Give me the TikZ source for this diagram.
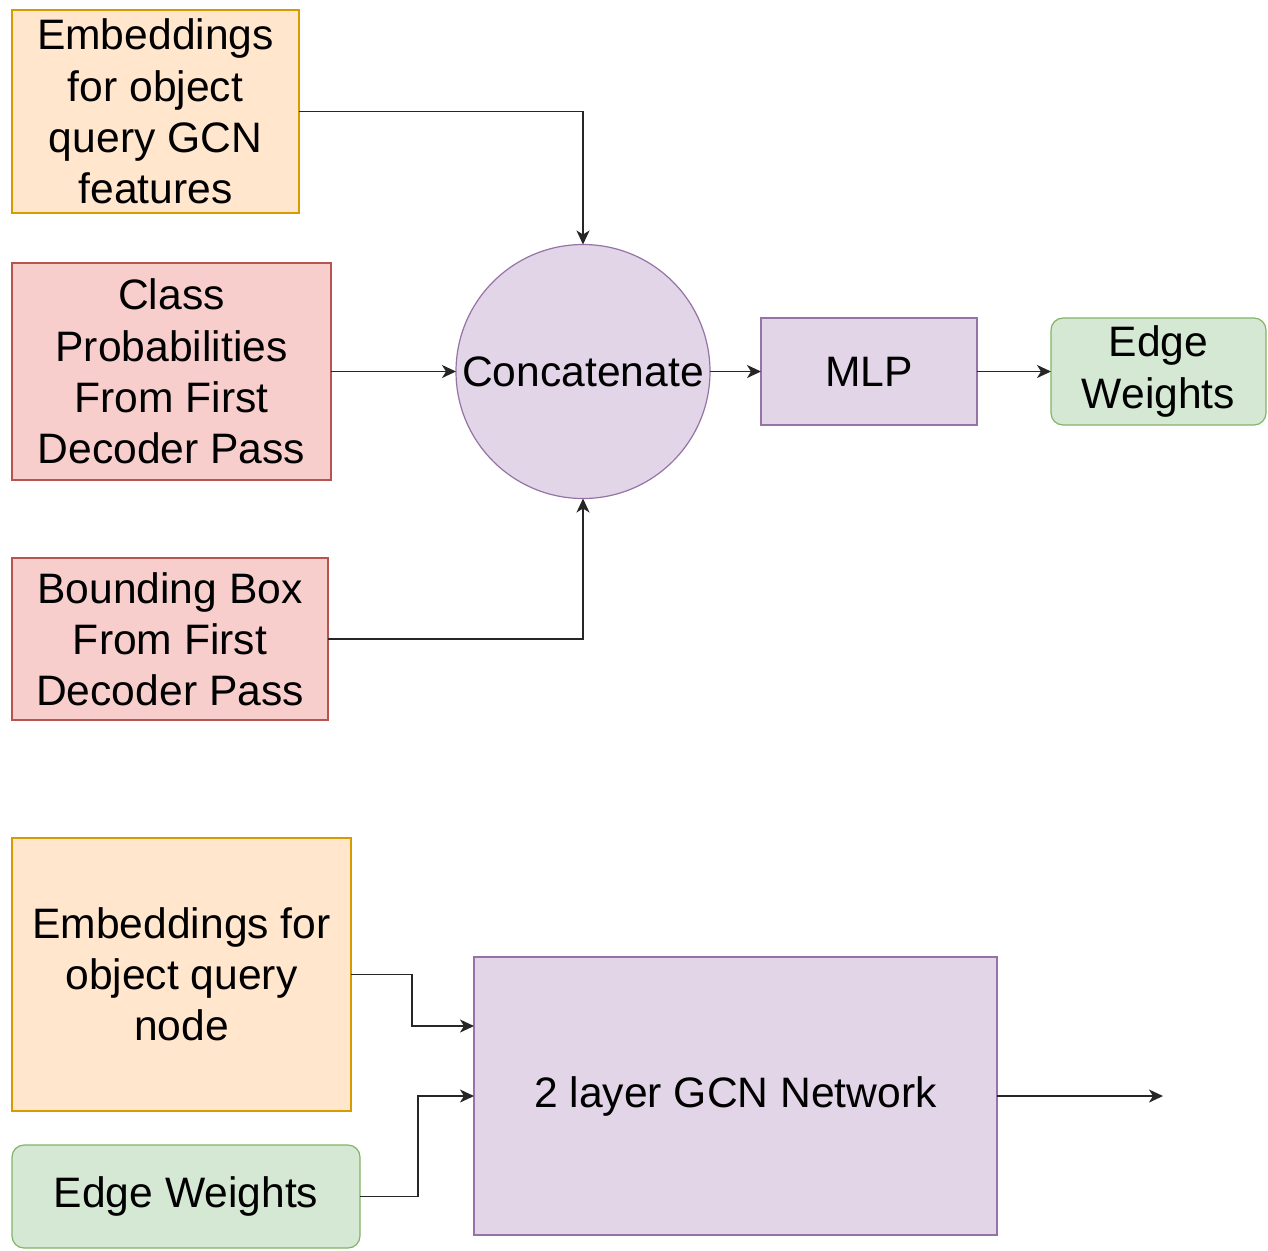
\documentclass[tikz,border=0pt]{standalone}
\usepackage{fontspec}
\setmainfont{Liberation Sans}
\usetikzlibrary{arrows.meta}
\definecolor{orangefill}{HTML}{FFE6CC}
\definecolor{orangeline}{HTML}{D79B00}
\definecolor{redfill}{HTML}{F8CECC}
\definecolor{redline}{HTML}{B85450}
\definecolor{purplefill}{HTML}{E1D5E7}
\definecolor{purpleline}{HTML}{9673A6}
\definecolor{greenfill}{HTML}{D5E8D4}
\definecolor{greenline}{HTML}{82B366}
\tikzset{
  box/.style={draw, line width=0.6pt, inner sep=0pt, outer sep=0pt, align=center,
    font=\fontsize{21.3}{25.6}\selectfont},
  orangebox/.style={box, fill=orangefill, draw=orangeline},
  redbox/.style={box, fill=redfill, draw=redline},
  purplebox/.style={box, fill=purplefill, draw=purpleline},
  greenbox/.style={box, fill=greenfill, draw=greenline, rounded corners=6pt},
  link/.style={line width=0.9pt, draw=black!85, -{Stealth[length=7pt,width=6.5pt,inset=2pt]}},
}
\begin{document}
\begin{tikzpicture}[x=0.5pt,y=-0.5pt]
\useasboundingbox (0,0) rectangle (1268,1250);

% upper part: edge weight estimation
\node[orangebox, minimum width=143.5pt, minimum height=101.5pt] (emb) at (155.5,111.5)
  {Embeddings\\for object\\query GCN\\features};
\node[redbox, minimum width=159.5pt, minimum height=108.5pt] (cls) at (171.5,371.5)
  {Class\\Probabilities\\From First\\Decoder Pass};
\node[redbox, minimum width=158pt, minimum height=81pt] (bbox) at (170,639)
  {Bounding Box\\From First\\Decoder Pass};
\node[purplebox, circle, minimum size=127pt] (cat) at (583,371.5) {Concatenate};
\node[purplebox, minimum width=108pt, minimum height=53.5pt] (mlp) at (869,371.5) {MLP};
\node[greenbox, minimum width=107.5pt, minimum height=53.5pt] (ew) at (1158.5,371.5)
  {Edge\\Weights};

\draw[link] (emb.east) -| (cat.north);
\draw[link] (cls.east) -- (cat.west);
\draw[link] (bbox.east) -| (cat.south);
\draw[link] (cat.east) -- (mlp.west);
\draw[link] (mlp.east) -- (ew.west);

% lower part: GCN over object queries
\node[orangebox, minimum width=169.5pt, minimum height=136.5pt] (node) at (181.5,974.5)
  {Embeddings for\\object query\\node};
\node[greenbox, minimum width=174pt, minimum height=51.5pt] (ew2) at (186,1196.5)
  {\raisebox{-2pt}{Edge Weights}};
\node[purplebox, minimum width=261.5pt, minimum height=139pt] (gcn) at (735.5,1096)
  {\raisebox{-2pt}{2 layer GCN Network}};
\coordinate (out) at (1163,1096);

\draw[link] (node.east) -- (412,974.5) |- (474,1026);
\draw[link] (ew2.east) -- (418,1196.5) |- (gcn.west);
\draw[link] (gcn.east) -- (out);
\end{tikzpicture}
\end{document}
